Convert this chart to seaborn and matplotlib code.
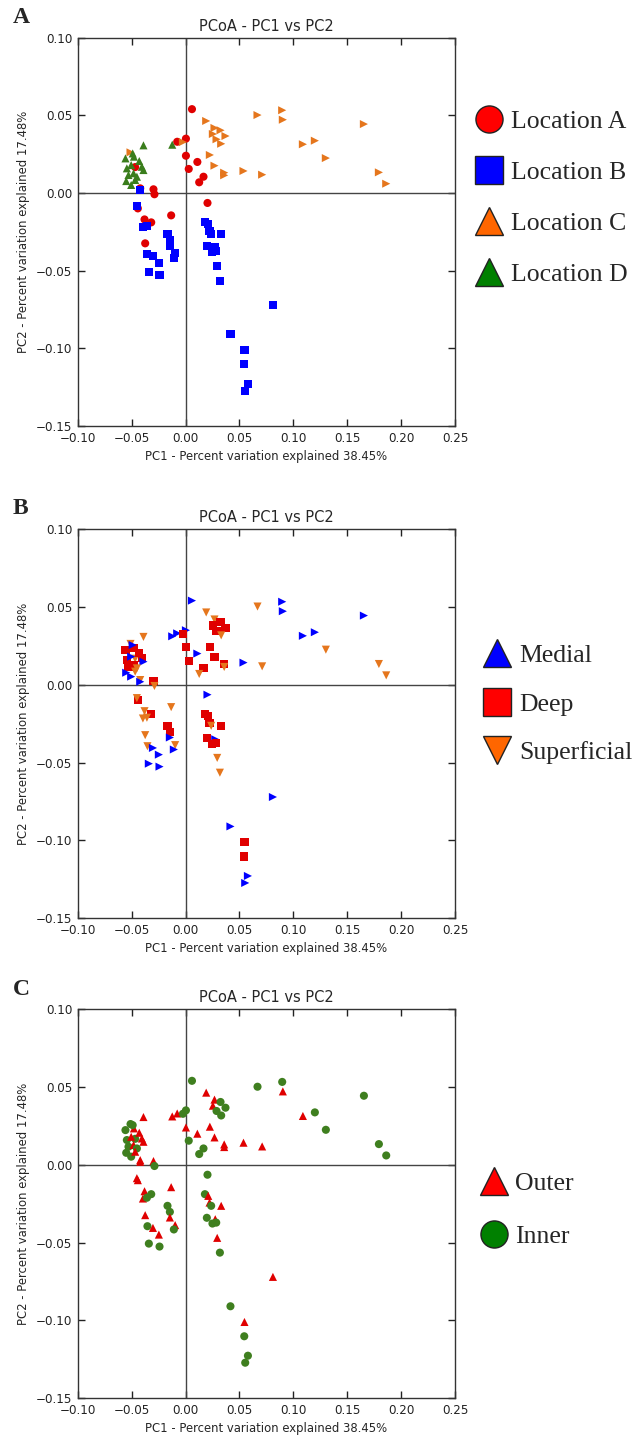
import matplotlib
matplotlib.use("Agg")
import matplotlib.pyplot as plt
from matplotlib.lines import Line2D
import seaborn as sns
import pandas as pd

# ---- data (sample coordinates) ----
pc1 = [0.006, 0.0004, -0.0077, 0.0004, 0.011, 0.003, 0.0167, 0.0127, -0.0467, -0.0297,
       -0.0288, 0.0204, -0.042, -0.0442, -0.038, -0.0318, -0.0133, -0.0374,
       -0.042, -0.0451, -0.0395, -0.0358, -0.0167, -0.0145, -0.0145, -0.0096, -0.0108, -0.0353,
       -0.0302, -0.0247, -0.034, -0.0241, 0.018, 0.0211, 0.0223, 0.0238, 0.0331, 0.0198,
       0.0276, 0.0285, 0.025, 0.0294, 0.0319, 0.0811, 0.0417, 0.0547, 0.0545, 0.0579, 0.0554,
       0.0897, 0.0903, 0.0668, 0.0192, 0.0269, 0.0325, 0.0254, 0.0371, 0.0288, 0.0331,
       0.0226, 0.0269, 0.0359, 0.0359, 0.0538, 0.0711, 0.1655, 0.1089, 0.12, 0.1302,
       0.1794, 0.1862, -0.0024, -0.051,
       -0.039, -0.0123, -0.0557, -0.0479, -0.0429, -0.0544, -0.0504, -0.0405, -0.039, -0.0529,
       -0.0482, -0.0451, -0.055, -0.0504, -0.0467, -0.049]
pc2 = [0.054, 0.035, 0.033, 0.024, 0.020, 0.0155, 0.0105, 0.0069, 0.0167, 0.0024,
       -0.0008, -0.0064, 0.003, -0.0099, -0.017, -0.0189, -0.0144, -0.0324,
       0.0019, -0.0086, -0.0217, -0.0212, -0.0264, -0.0303, -0.0339, -0.0388, -0.0416, -0.0395,
       -0.0406, -0.0449, -0.0507, -0.0526, -0.0189, -0.02, -0.0243, -0.0264, -0.0264, -0.0341,
       -0.035, -0.0372, -0.0378, -0.047, -0.0565, -0.0721, -0.091, -0.1011, -0.1103, -0.1228, -0.1273,
       0.0533, 0.0472, 0.0502, 0.0464, 0.0419, 0.0404, 0.038, 0.0367, 0.0346, 0.0317,
       0.0245, 0.0176, 0.0131, 0.0114, 0.0142, 0.0118, 0.0444, 0.0314, 0.0337, 0.0225,
       0.0133, 0.006, 0.0328, 0.0262,
       0.0307, 0.0311, 0.0223, 0.0234, 0.0206, 0.0159, 0.018, 0.0169, 0.0148, 0.0116,
       0.0127, 0.0105, 0.0077, 0.0052, 0.0084, 0.0255]
location = (["Location A"] * 18 + ["Location B"] * 31 + ["Location C"] * 24 + ["Location D"] * 16)
layer = list("MMMDMDDSSDSMSDSDSS" + "MSSSDDMSMSMMMMDDDSDDMDDSSMMDDMM" +
             "MMSSSDDDDSDDDSMSMMMSSSDS" + "SMDDDDMDMDDSMMSM")
side = list("IIOOOIIIIOIIOOOIOO" + "OOOIIIOOIIOOIIIOOIOIOIIOIOIOIII" +
            "IOIOOIOIIIOOOOOOIOIIIIII" + "OOIOOIOOOIOIIIOI")

layer_names = {"M": "Medial", "D": "Deep", "S": "Superficial"}
side_names = {"O": "Outer", "I": "Inner"}

df = pd.DataFrame({"pc1": pc1, "pc2": pc2, "location": location,
                   "layer": [layer_names[v] for v in layer],
                   "side": [side_names[v] for v in side]})

xticks = [-0.10, -0.05, 0.00, 0.05, 0.10, 0.15, 0.20, 0.25]
yticks = [-0.15, -0.10, -0.05, 0.00, 0.05, 0.10]

sns.set_style("ticks")
plt.rcParams.update({
    "font.family": ["DejaVu Sans"],
    "xtick.direction": "in", "ytick.direction": "in",
    "xtick.top": True, "ytick.right": True,
    "xtick.major.size": 5, "ytick.major.size": 5,
    "xtick.major.width": 1.0, "ytick.major.width": 1.0,
    "axes.edgecolor": "#333333", "axes.linewidth": 1.0,
    "xtick.color": "#222222", "ytick.color": "#222222",
    "axes.unicode_minus": True,
})

fig = plt.figure(figsize=(6.36, 14.35), dpi=100)
W, H = 636, 1435

def make_axes(top_px, bottom_px):
    left, right = 77.7, 455.0
    return fig.add_axes([left / W, 1 - bottom_px / H, (right - left) / W, (bottom_px - top_px) / H])

panels = [
    dict(letter="A", top=37.7, bottom=426.0, col="location",
         order=["Location A", "Location B", "Location C", "Location D"],
         pal={"Location A": "#E00000", "Location B": "#0000FF", "Location C": "#E5761D", "Location D": "#3A7D1C"},
         mk={"Location A": "o", "Location B": "s", "Location C": ">", "Location D": "^"},
         leg_mk=["o", "s", "^", "^"],
         leg_col=["#FF0000", "#0000FF", "#FF6600", "#008000"],
         leg_y=0.587, leg_x=1.053, spacing=1.1),
    dict(letter="B", top=529.0, bottom=918.3, col="layer",
         order=["Medial", "Deep", "Superficial"],
         pal={"Medial": "#0000FF", "Deep": "#E00000", "Superficial": "#E5761D"},
         mk={"Medial": ">", "Deep": "s", "Superficial": "v"},
         leg_mk=["^", "s", "v"],
         leg_col=["#0000FF", "#FF0000", "#FF6600"],
         leg_y=0.55, leg_x=1.075, spacing=1.0),
    dict(letter="C", top=1009.3, bottom=1398.0, col="side",
         order=["Outer", "Inner"],
         pal={"Outer": "#E00000", "Inner": "#3F7F1F"},
         mk={"Outer": "^", "Inner": "o"},
         leg_mk=["^", "o"],
         leg_col=["#FF0000", "#008000"],
         leg_y=0.484, leg_x=1.065, spacing=1.15),
]

for p in panels:
    ax = make_axes(p["top"], p["bottom"])
    ax.axhline(0, color="#444444", lw=1.0, zorder=1)
    ax.axvline(0, color="#444444", lw=1.0, zorder=1)
    sns.scatterplot(data=df, x="pc1", y="pc2", hue=p["col"], style=p["col"],
                    hue_order=p["order"], style_order=p["order"],
                    palette=p["pal"], markers=p["mk"], s=34,
                    edgecolor="none", linewidth=0, legend=False, ax=ax, zorder=3)
    ax.set_xlim(-0.10, 0.25)
    ax.set_ylim(-0.15, 0.10)
    ax.set_xticks(xticks)
    ax.set_yticks(yticks)
    ax.set_xticklabels([f"{v:.2f}".replace("-", "\u2212") for v in xticks], fontsize=8.6)
    ax.set_yticklabels([f"{v:.2f}".replace("-", "\u2212") for v in yticks], fontsize=8.6)
    ax.tick_params(pad=4)
    ax.set_xlabel("PC1 - Percent variation explained 38.45%", fontsize=8.4, labelpad=4)
    ax.set_ylabel("PC2 - Percent variation explained 17.48%", fontsize=8.4, labelpad=4)
    ax.set_title("PCoA - PC1 vs PC2", fontsize=10.5, pad=5)
    for sp in ax.spines.values():
        sp.set_visible(True)
    ax.text(-0.172, 1.052, p["letter"], transform=ax.transAxes, fontsize=17,
            fontweight="bold", family=["Liberation Serif"], va="center", ha="left")
    handles = [Line2D([], [], linestyle="none", marker=m, markersize=19.5,
                      markerfacecolor=c, markeredgecolor="#222222", markeredgewidth=1.0)
               for m, c in zip(p["leg_mk"], p["leg_col"])]
    ax.legend(handles, p["order"], loc="center left", bbox_to_anchor=(p["leg_x"], p["leg_y"]),
              frameon=False, prop={"family": "Liberation Serif", "size": 18.5},
              handlelength=1.1, handletextpad=0.3, labelspacing=p["spacing"],
              borderpad=0, borderaxespad=0)

fig.savefig("out.png", dpi=100)
